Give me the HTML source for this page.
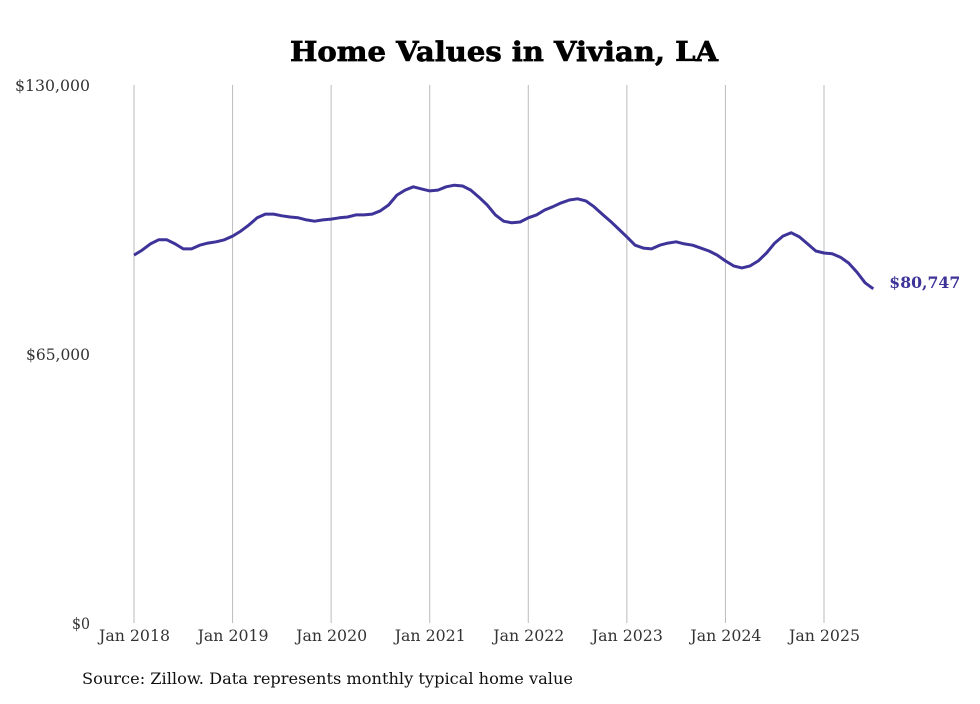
<!DOCTYPE html>
<html><head><meta charset="utf-8"><style>
body{margin:0;background:#fff;width:980px;height:699px;overflow:hidden}
svg text{font-family:"DejaVu Serif","Liberation Serif",serif}
</style></head><body>
<svg id="chart" width="980" height="699">
<text x="290" y="61" textLength="428" lengthAdjust="spacingAndGlyphs" font-size="27" font-weight="bold" fill="#000" stroke="#000" stroke-width="0.7">Home Values in Vivian, LA</text>
<g id="grid"></g><g id="yaxis"></g><g id="xaxis"></g><g id="series"></g>
<text x="82" y="684" textLength="491" lengthAdjust="spacingAndGlyphs" font-size="16" fill="#111">Source: Zillow. Data represents monthly typical home value</text>
</svg>
<script>
const yTicks=[0,65000,130000];
const yTickLabels=["$0","$65,000","$130,000"];
const xYears=[2018,2019,2020,2021,2022,2023,2024,2025];
const xTickLabels=["Jan 2018","Jan 2019","Jan 2020","Jan 2021","Jan 2022","Jan 2023","Jan 2024","Jan 2025"];
const values=[88.9,90.1,91.6,92.6,92.6,91.6,90.4,90.4,91.3,91.8,92.1,92.6,93.5,94.7,96.2,97.9,98.8,98.8,98.4,98.1,97.9,97.4,97.1,97.4,97.6,97.9,98.1,98.6,98.6,98.8,99.6,101.0,103.4,104.6,105.4,104.9,104.4,104.6,105.4,105.8,105.6,104.6,102.9,101.0,98.6,97.1,96.7,96.9,97.9,98.6,99.8,100.6,101.5,102.2,102.5,102.0,100.6,98.8,97.1,95.2,93.3,91.3,90.6,90.4,91.3,91.8,92.1,91.6,91.3,90.6,89.9,88.9,87.5,86.3,85.8,86.3,87.5,89.4,91.8,93.5,94.3,93.3,91.6,89.9,89.4,89.2,88.4,87.0,84.8,82.2,80.747];
const lastLabel="$80,747";
const NS="http://www.w3.org/2000/svg";
const y=v=>623-v/130000*538;
const x=m=>134+m*(690/84);
function mk(tag,attrs,parent){const e=document.createElementNS(NS,tag);for(const k in attrs)e.setAttribute(k,attrs[k]);document.getElementById(parent).appendChild(e);return e;}
xYears.forEach((yr,i)=>{const m=(yr-2018)*12;
 const l=mk('line',{x1:x(m),x2:x(m),y1:85,y2:623,stroke:'#bbb','stroke-width':1},'grid');
 
 
 const t=mk('text',{x:x(m)-35,y:641,textLength:71,lengthAdjust:'spacingAndGlyphs','font-size':16,fill:'#333'},'xaxis');t.textContent=xTickLabels[i];
 
 
});
const yLens=[18,64,75];
yTicks.forEach((v,i)=>{const t=mk('text',{x:90-yLens[i],y:y(v)+6,textLength:yLens[i],lengthAdjust:'spacingAndGlyphs','font-size':16,fill:'#333'},'yaxis');t.textContent=yTickLabels[i];
 
 
});
const d=values.map((v,i)=>(i?'L':'M')+x(i).toFixed(1)+','+y(v*1000).toFixed(1)).join('');
const p=mk('path',{d:d,fill:'none',stroke:'#3d3399','stroke-width':3,'stroke-linejoin':'round'},'series');


const n=values.length-1;
const lt=mk('text',{x:x(n)+16,y:y(values[n]*1000)-1,textLength:71,lengthAdjust:'spacingAndGlyphs','font-size':16,'font-weight':'bold',fill:'#3d3399'},'series');lt.textContent=lastLabel;


</script>
</body></html>
